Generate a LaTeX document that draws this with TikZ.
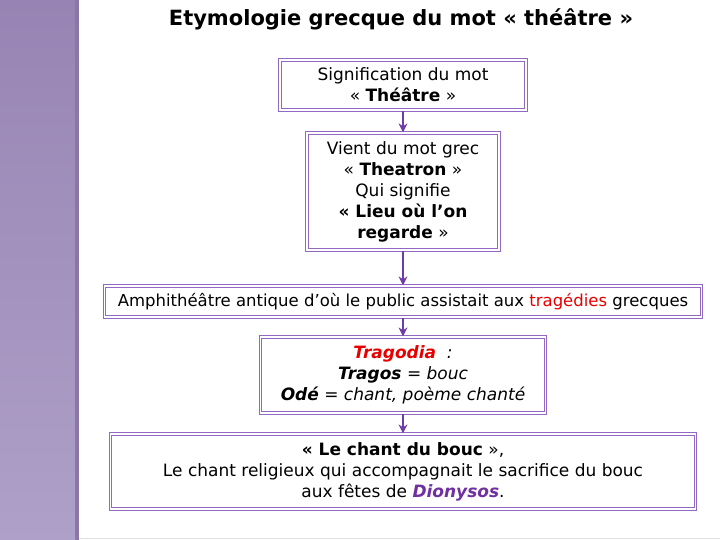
\documentclass[tikz,border=0pt]{standalone}
\usepackage{fontspec}
\setmainfont{DejaVu Sans}
\usetikzlibrary{arrows.meta}
\definecolor{boxline}{RGB}{145,105,192}
\definecolor{arrowc}{RGB}{112,60,165}
\definecolor{redt}{RGB}{230,0,0}
\definecolor{dion}{RGB}{112,48,160}
\definecolor{bartop}{RGB}{152,132,180}
\definecolor{barbot}{RGB}{174,160,200}
\definecolor{baredge}{RGB}{140,118,166}
\begin{document}
\begin{tikzpicture}[x=1pt,y=-1pt,
  box/.style={draw=boxline, line width=1.2pt, double=white, double distance=1.2pt,
    fill=white, inner sep=0pt, align=center, font=\fontsize{17}{21}\selectfont},
  conn/.style={arrowc, line width=1.6pt, -{Stealth[length=9pt,width=9pt]}},
  titlestyle/.style={font=\fontsize{21}{25}\selectfont\bfseries, inner sep=0pt}]
\useasboundingbox (0,0) rectangle (720,540);
\fill[white] (0,0) rectangle (720,540);
\shade[top color=bartop, bottom color=barbot] (0,0) rectangle (76,540);
\fill[baredge] (75,0) rectangle (79,540);
\draw[black!12, line width=1pt] (79,538) -- (720,538);

\node[titlestyle] (title) at (401,19) {Etymologie grecque du mot «~théâtre~»};

\node[box, minimum width=246pt, minimum height=50pt] (b1) at (403,85)
  {Signification du mot\\ «~\textbf{Théâtre}~»};
\node[box, minimum width=192pt, minimum height=117pt] (b2) at (403,191.5)
  {Vient du mot grec\\ «~\textbf{Theatron}~»\\ Qui signifie\\ \textbf{«~Lieu où l’on}\\ \textbf{regarde}~»};
\node[box, minimum width=597pt, minimum height=31pt, font=\fontsize{16.5}{20}\selectfont] (b3) at (403,301.5)
  {Amphithéâtre antique d’où le public assistait aux {\color{redt}tragédies} grecques};
\node[box, minimum width=285pt, minimum height=76pt] (b4) at (403,375)
  {{\color{redt}\bfseries\itshape Tragodia}\itshape\ \ :\\ {\bfseries\itshape Tragos} {\itshape = bouc}\\ {\bfseries\itshape Odé} {\itshape = chant, poème chanté}};
\node[box, minimum width=585pt, minimum height=75pt] (b5) at (403,471.5)
  {\textbf{«~Le chant du bouc}~»,\\ Le chant religieux qui accompagnait le sacrifice du bouc\\ aux fêtes de {\color{dion}\bfseries\itshape Dionysos}.};

\draw[conn] (b1.south) -- (b2.north);
\draw[conn] (b2.south) -- (b3.north);
\draw[conn] (b3.south) -- (b4.north);
\draw[conn] (b4.south) -- (b5.north);
\end{tikzpicture}
\end{document}
